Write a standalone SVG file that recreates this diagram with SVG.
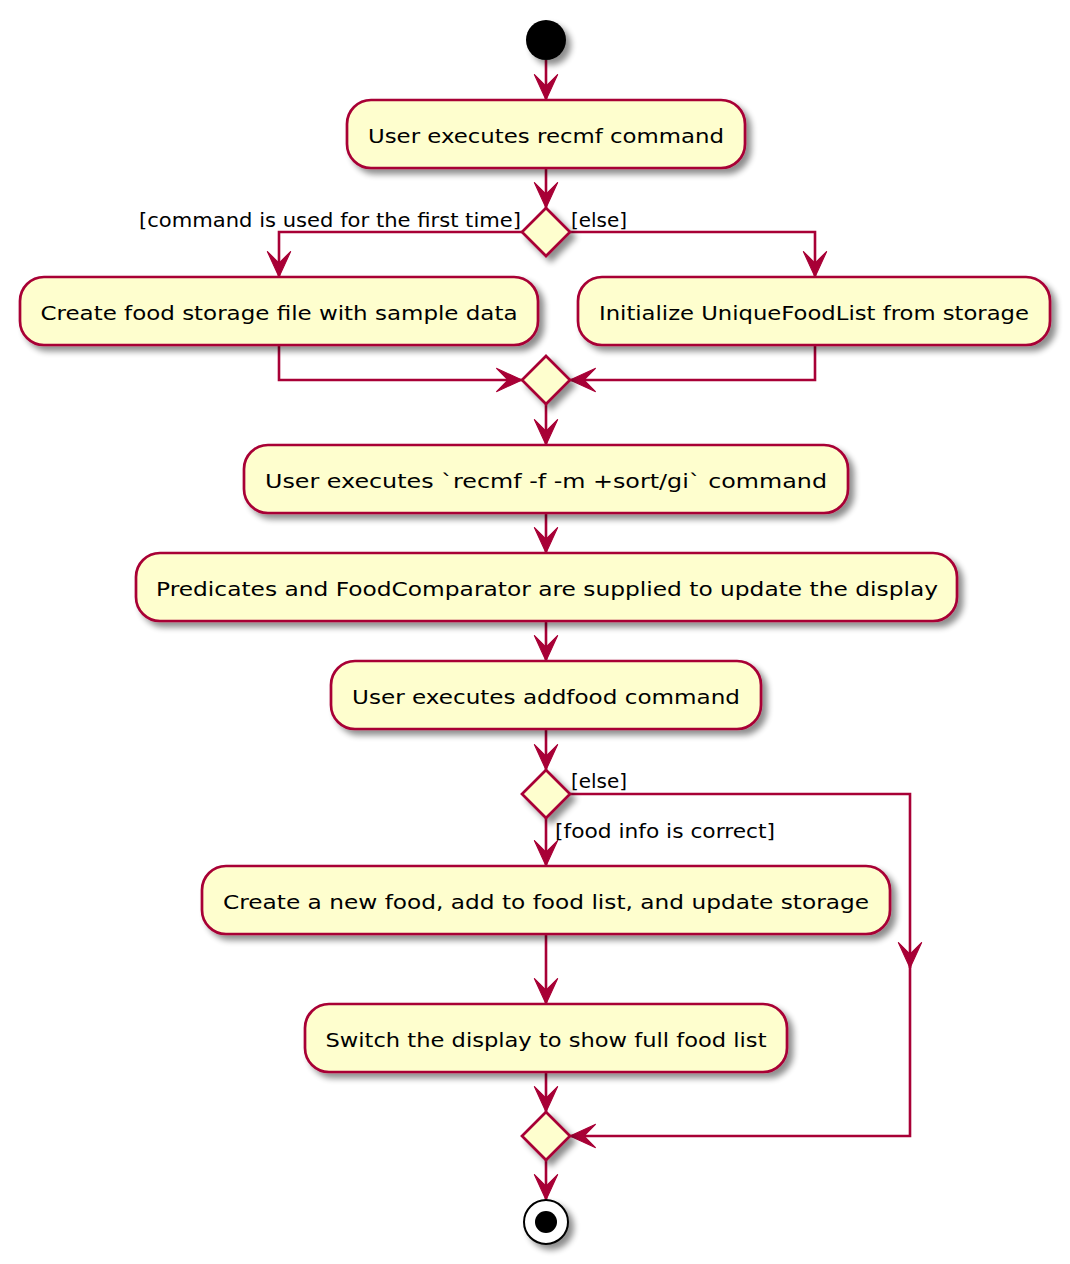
<svg xmlns="http://www.w3.org/2000/svg" width="1070" height="1264" viewBox="0 0 1070 1264">
<style>
.box{fill:#FEFECE;stroke:#A80036;stroke-width:2.7;filter:url(#sh)}
.dia{fill:#FEFECE;stroke:#A80036;stroke-width:2.7;filter:url(#sh)}
.t{font-family:"DejaVu Sans","Liberation Sans",sans-serif;font-size:20px;fill:#000;text-anchor:middle}
.l{font-family:"DejaVu Sans","Liberation Sans",sans-serif;font-size:19px;fill:#000}
.c{fill:none;stroke:#A80036;stroke-width:2.6;marker-end:url(#ah)}
</style>
<defs>
<filter id="sh" x="-20%" y="-20%" width="150%" height="160%">
<feGaussianBlur in="SourceAlpha" stdDeviation="3"/>
<feOffset dx="5" dy="5" result="b"/>
<feComponentTransfer><feFuncA type="linear" slope="0.45"/></feComponentTransfer>
<feMerge><feMergeNode/><feMergeNode in="SourceGraphic"/></feMerge>
</filter>
<marker id="ah" markerUnits="userSpaceOnUse" orient="auto" markerWidth="30" markerHeight="30" refX="0" refY="0" viewBox="-26 -13 28 26" overflow="visible">
<path d="M0,0 L-24,-11 L-13,0 L-24,11 Z" fill="#A80036" stroke="#A80036" stroke-width="1"/>
</marker>
</defs>
<g id="connectors">
<path class="c" d="M546,60 V100"/>
<path class="c" d="M546,168 V208"/>
<path class="c" d="M522,232 H279 V277"/>
<path class="c" d="M570,232 H815 V277"/>
<path class="c" d="M279,345 V380 H522"/>
<path class="c" d="M815,345 V380 H570"/>
<path class="c" d="M546,404 V445"/>
<path class="c" d="M546,513 V553"/>
<path class="c" d="M546,621 V661"/>
<path class="c" d="M546,729 V770"/>
<path class="c" d="M546,818 V866"/>
<path class="c" d="M570,794 H910 V968"/>
<path class="c" d="M910,960 V1136 H570"/>
<path class="c" d="M546,934 V1004"/>
<path class="c" d="M546,1072 V1112"/>
<path class="c" d="M546,1160 V1200"/>
<text class="l" x="139" y="227" textLength="382" lengthAdjust="spacingAndGlyphs">[command is used for the first time]</text>
<text class="l" x="571" y="227" textLength="56" lengthAdjust="spacingAndGlyphs">[else]</text>
<text class="l" x="571" y="788" textLength="56" lengthAdjust="spacingAndGlyphs">[else]</text>
<text class="l" x="555" y="838" textLength="220" lengthAdjust="spacingAndGlyphs">[food info is correct]</text>
</g>
<g id="start"><circle cx="546" cy="40" r="20" fill="#000" filter="url(#sh)"/></g>
<g id="n1"><rect class="box" x="347" y="100" width="398" height="68" rx="24"/><text class="t" x="546" y="143" textLength="356" lengthAdjust="spacingAndGlyphs">User executes recmf command</text></g>
<g id="d1"><polygon class="dia" points="546,208 570,232 546,256 522,232"/></g>
<g id="n2"><rect class="box" x="20" y="277" width="518" height="68" rx="24"/><text class="t" x="279" y="320" textLength="477" lengthAdjust="spacingAndGlyphs">Create food storage file with sample data</text></g>
<g id="n3"><rect class="box" x="578" y="277" width="472" height="68" rx="24"/><text class="t" x="814" y="320" textLength="430" lengthAdjust="spacingAndGlyphs">Initialize UniqueFoodList from storage</text></g>
<g id="d2"><polygon class="dia" points="546,356 570,380 546,404 522,380"/></g>
<g id="n4"><rect class="box" x="244" y="445" width="604" height="68" rx="24"/><text class="t" x="546" y="488" textLength="562" lengthAdjust="spacingAndGlyphs">User executes `recmf -f -m +sort/gi` command</text></g>
<g id="n5"><rect class="box" x="136" y="553" width="821" height="68" rx="24"/><text class="t" x="547" y="596" textLength="782" lengthAdjust="spacingAndGlyphs">Predicates and FoodComparator are supplied to update the display</text></g>
<g id="n6"><rect class="box" x="331" y="661" width="430" height="68" rx="24"/><text class="t" x="546" y="704" textLength="388" lengthAdjust="spacingAndGlyphs">User executes addfood command</text></g>
<g id="d3"><polygon class="dia" points="546,770 570,794 546,818 522,794"/></g>
<g id="n7"><rect class="box" x="202" y="866" width="688" height="68" rx="24"/><text class="t" x="546" y="909" textLength="646" lengthAdjust="spacingAndGlyphs">Create a new food, add to food list, and update storage</text></g>
<g id="n8"><rect class="box" x="305" y="1004" width="482" height="68" rx="24"/><text class="t" x="546" y="1047" textLength="441" lengthAdjust="spacingAndGlyphs">Switch the display to show full food list</text></g>
<g id="d4"><polygon class="dia" points="546,1112 570,1136 546,1160 522,1136"/></g>
<g id="end"><circle cx="546" cy="1222" r="22" fill="#fff" stroke="#000" stroke-width="2" filter="url(#sh)"/><circle cx="546" cy="1222" r="11" fill="#000"/></g>
</svg>
